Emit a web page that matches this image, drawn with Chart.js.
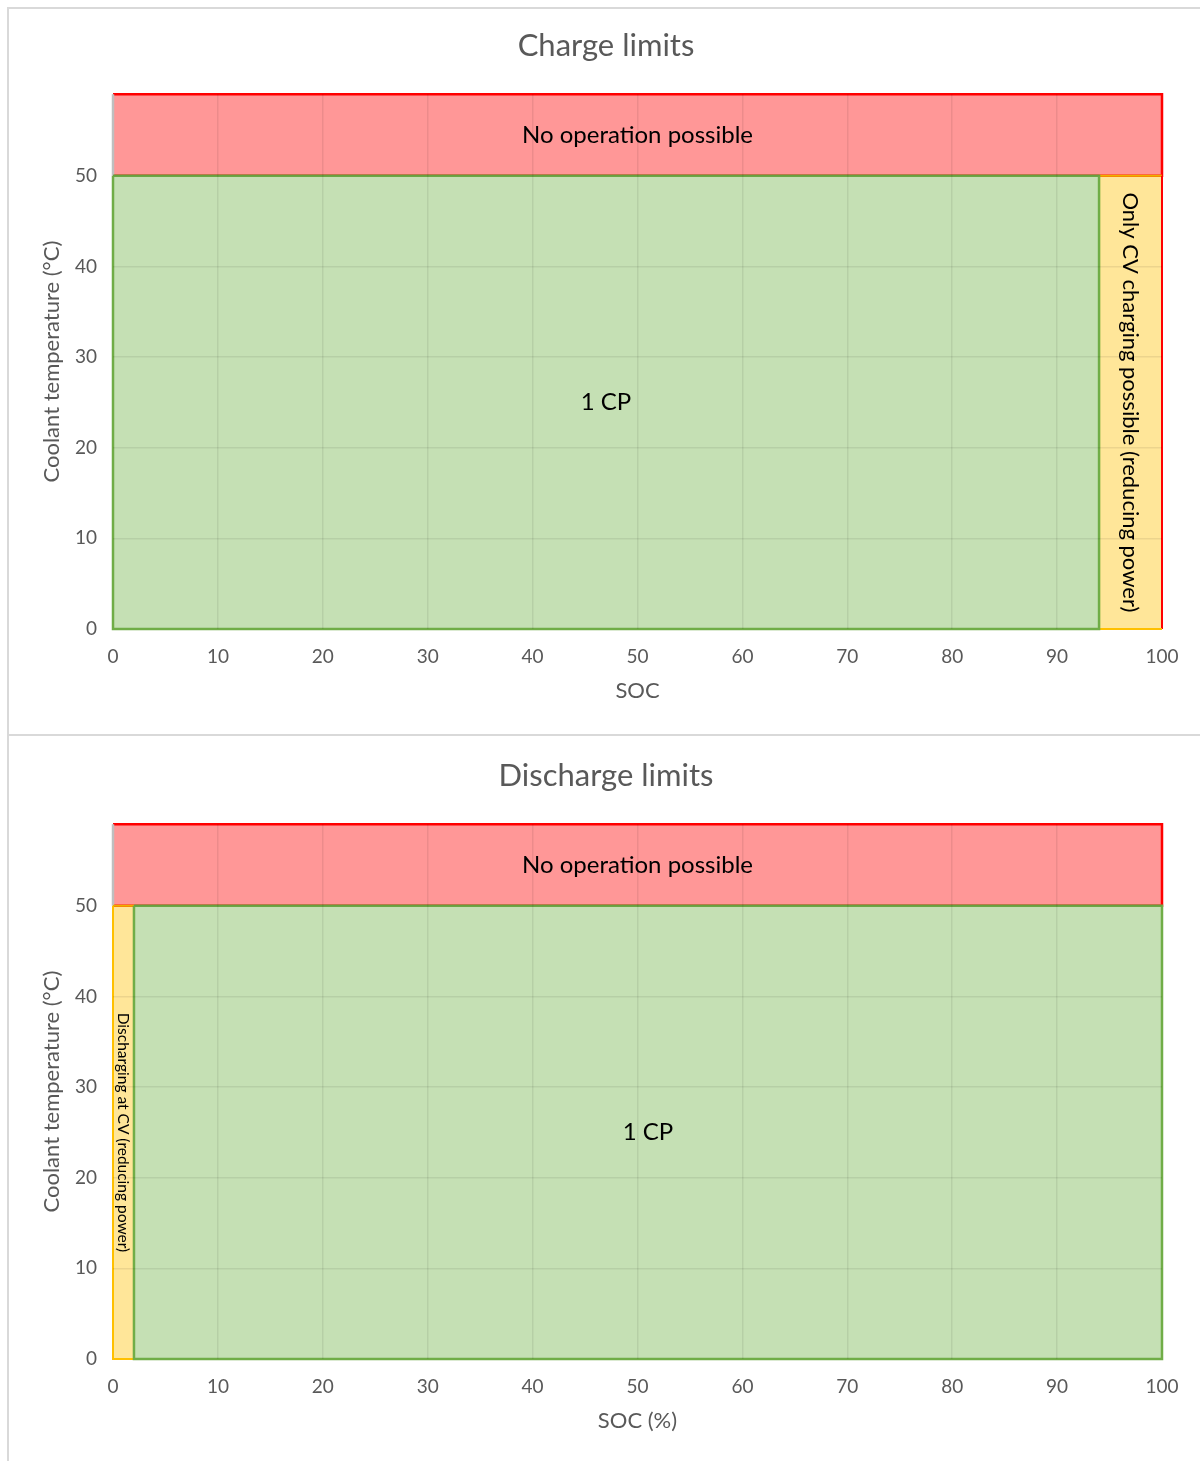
<!DOCTYPE html>
<html>
<head>
<meta charset="utf-8">
<script src="https://cdn.jsdelivr.net/npm/chart.js@4"></script>
<style>
  html, body { margin: 0; padding: 0; background: #fff; }
  body { width: 1200px; height: 1461px; position: relative; overflow: hidden; font-family: Lato, sans-serif; }
  .frame { position: absolute; left: 7px; width: 1200px; box-sizing: border-box; border: 2px solid #d9d9d9; border-right: none; }
  #frame1 { top: 7px; height: 729px; }
  #frame2 { top: 736px; height: 740px; border-top: none; border-bottom: none; }
  canvas { position: absolute; left: 0; }
  #charge { top: 0; }
  #discharge { top: 735px; }
</style>
</head>
<body>
<div class="frame" id="frame1"></div>
<div class="frame" id="frame2"></div>
<canvas id="charge" width="1200" height="735"></canvas>
<canvas id="discharge" width="1200" height="726"></canvas>
<script>
// Operating zones: [SOC from, SOC to, temperature from, temperature to]
const chargeNoOperation = [0, 100, 50, 59];
const chargeConstantPower = [0, 94, 0, 50];
const chargeConstantVoltage = [94, 100, 0, 50];

const dischargeNoOperation = [0, 100, 50, 59];
const dischargeConstantPower = [2, 100, 0, 50];
const dischargeConstantVoltage = [0, 2, 0, 50];

const chargeZoneLabels = ['No operation possible', '1 CP', 'Only CV charging possible (reducing power)'];
const dischargeZoneLabels = ['No operation possible', '1 CP', 'Discharging at CV (reducing power)'];

// Axis ranges
const socRange = [0, 100];
const tempRange = [0, 59];
const tickStep = 10;

// Zone styling: no-operation, constant power, constant voltage
const zoneFill = ['#FF9797', '#C5E0B4', '#FFE699'];
const zoneEdge = ['#FF0000', '#70AD47', '#FFC000'];
const zoneEdgeWidth = [2.5, 2.5, 2];
const zoneEdgeOrder = [5, 3, 4];     // green edge on top, then yellow, then red
const axisLineColor = '#BFBFBF';
const textGray = '#595959';
const gridColor = 'rgba(0,0,0,0.075)';

// Writes each zone's caption at the centre of its rectangle
const zoneCaptions = {
  id: 'zoneCaptions',
  afterDraw(chart) {
    const o = chart.options.plugins.zoneCaptions;
    const { ctx } = chart;
    const xs = chart.scales.x, ys = chart.scales.y;
    o.zones.forEach((z, i) => {
      const cx = xs.getPixelForValue((z[0] + z[1]) / 2);
      const cy = ys.getPixelForValue((z[2] + z[3]) / 2);
      ctx.save();
      ctx.translate(cx, cy);
      if (o.vertical[i]) ctx.rotate(Math.PI / 2);
      ctx.font = o.sizes[i] + 'px Lato';
      ctx.fillStyle = '#000';
      ctx.textAlign = 'center';
      ctx.textBaseline = 'middle';
      ctx.fillText(o.labels[i], 0, 0);
      ctx.restore();
    });
  }
};

function gridFor(edgeValues) {
  return {
    z: 1,
    color: c => (c.tick && edgeValues.includes(c.tick.value)) ? 'rgba(0,0,0,0)' : gridColor,
    lineWidth: 1.5,
    drawTicks: false
  };
}

// Closed rectangle outline: top, right, bottom, then back up the left side
function outlinePoints(z) {
  return [
    { x: z[0], y: z[3] }, { x: z[1], y: z[3] }, { x: z[1], y: z[2] },
    { x: z[0], y: z[2] }, { x: z[0], y: z[3] }
  ];
}

// Per-side colour overrides: sideColors[zone] = {segmentEndIndex: colour}
function segmentStyle(sides) {
  if (!sides) return undefined;
  return { borderColor: s => sides[s.p1DataIndex] };
}

function buildChart(id, title, xTitle, zones, labels, sizes, sideColors, lay) {
  const datasets = [];
  zones.forEach((z, i) => {
    datasets.push({
      data: [{ x: z[0], y: z[3] }, { x: z[1], y: z[3] }],
      showLine: true,
      borderColor: 'rgba(0,0,0,0)',
      borderWidth: 0,
      pointRadius: 0,
      backgroundColor: zoneFill[i],
      fill: { value: z[2] },
      order: 10,
      clip: false
    });
  });
  zones.forEach((z, i) => {
    datasets.push({
      data: outlinePoints(z),
      showLine: true,
      fill: false,
      borderColor: zoneEdge[i],
      borderWidth: zoneEdgeWidth[i],
      borderJoinStyle: 'miter',
      pointRadius: 0,
      order: zoneEdgeOrder[i],
      clip: false,
      segment: segmentStyle(sideColors[i])
    });
  });

  return new Chart(document.getElementById(id), {
    type: 'scatter',
    data: { datasets },
    options: {
      responsive: false,
      animation: false,
      devicePixelRatio: 1,
      layout: { padding: { left: 50, right: 38, top: 0, bottom: 0 } },
      plugins: {
        legend: { display: false },
        tooltip: { enabled: false },
        title: {
          display: true,
          text: title,
          color: textGray,
          font: { family: 'Lato', size: 31, weight: 'normal' },
          padding: { top: lay.titleTop, bottom: lay.titleBottom }
        },
        zoneCaptions: { zones, labels, sizes, vertical: [false, false, true] }
      },
      scales: {
        x: {
          type: 'linear',
          min: socRange[0], max: socRange[1],
          border: { display: false },
          grid: gridFor([socRange[0], socRange[1]]),
          ticks: { stepSize: tickStep, color: textGray, font: { family: 'Lato', size: 19 }, padding: 16, maxRotation: 0, autoSkip: false },
          title: {
            display: true, text: xTitle, color: textGray,
            font: { family: 'Lato', size: 22 },
            padding: { top: 0, bottom: lay.xTitleBottom }
          },
          afterFit(s) { s.height = lay.xHeight; }
        },
        y: {
          type: 'linear',
          min: tempRange[0], max: tempRange[1],
          border: { display: false },
          grid: gridFor([tempRange[0]]),
          ticks: { stepSize: tickStep, includeBounds: false, color: textGray, font: { family: 'Lato', size: 19 }, padding: 16 },
          title: {
            display: true, text: 'Coolant temperature (°C)', color: textGray,
            font: { family: 'Lato', size: 22 },
            padding: { top: -11.2, bottom: 0 }
          },
          afterFit(s) { s.width = 63; }
        }
      }
    },
    plugins: [zoneCaptions]
  });
}

// The no-operation band's left side is the grey vertical axis line
buildChart('charge', 'Charge limits', 'SOC',
  [chargeNoOperation, chargeConstantPower, chargeConstantVoltage],
  chargeZoneLabels, [24, 24, 22],
  [{ 4: axisLineColor }, null, { 2: zoneEdge[0] }],
  { titleTop: 27.5, titleBottom: 29.5, xHeight: 106, xTitleBottom: 30.8 });

buildChart('discharge', 'Discharge limits', 'SOC (%)',
  [dischargeNoOperation, dischargeConstantPower, dischargeConstantVoltage],
  dischargeZoneLabels, [24, 24, 15.5],
  [{ 4: axisLineColor }, null, null],
  { titleTop: 22.5, titleBottom: 29.5, xHeight: 102, xTitleBottom: 26.8 });
</script>
</body>
</html>
